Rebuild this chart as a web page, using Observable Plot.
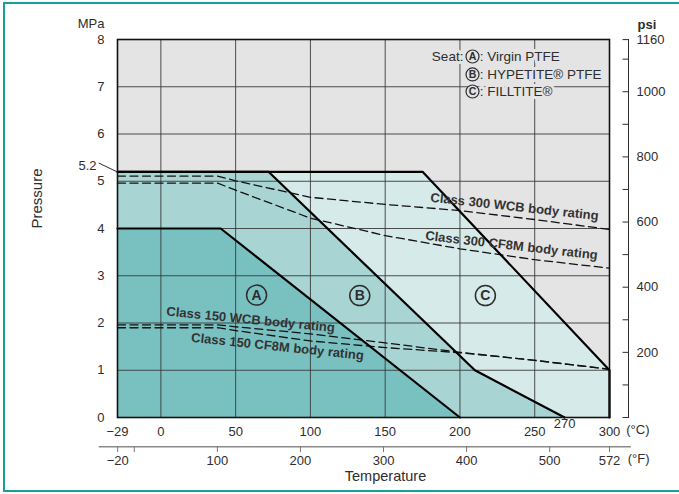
<!DOCTYPE html>
<html><head><meta charset="utf-8">
<script src="https://cdn.jsdelivr.net/npm/d3@7"></script>
<script src="https://cdn.jsdelivr.net/npm/@observablehq/plot@0.6"></script>
<style>
body{margin:0;background:#fff;overflow:hidden;font-family:"Liberation Sans",Arial,sans-serif;}
#wrap{position:relative;width:679px;height:494px;overflow:hidden}
#border{position:absolute;left:3px;top:2px;width:720px;height:490px;border:2px solid #17a199;box-sizing:border-box;pointer-events:none}
</style></head><body><div id="wrap"><div id="border"></div></div>
<script>
// ---- data ----
const seatA_T = [-29, 40, 200];
const seatA_P = [4.0, 4.0, 0];
const seatB_T = [-29, 72, 210, 270];
const seatB_P = [5.2, 5.2, 1.0, 0];
const seatC_T = [-29, 175, 300, 300];
const seatC_P = [5.2, 5.2, 1.0, 0];

const ratingT   = [-29, 38, 50, 100, 150, 200, 250, 300];
const wcb300    = [5.11, 5.11, 5.01, 4.66, 4.51, 4.38, 4.19, 3.98];
const cf8m300   = [4.96, 4.96, 4.81, 4.22, 3.85, 3.57, 3.34, 3.16];
const wcb150    = [1.96, 1.96, 1.92, 1.77, 1.58, 1.38, 1.21, 1.02];
const cf8m150   = [1.90, 1.90, 1.84, 1.62, 1.48, 1.37, 1.21, 1.02];

const cTicks = [-29, 0, 50, 100, 150, 200, 250, 300];
const cGrid = [0, 50, 100, 150, 200, 250];
const mpaTicks = [0, 1, 2, 3, 4, 5, 6, 7, 8];
const mpaGrid = [1, 2, 3, 4, 5, 6, 7];
const fTicks = [-20, 0, 100, 200, 300, 400, 500, 572];
const fLabels = [-20, 100, 200, 300, 400, 500, 572];
const psiTicks = [0, 100, 200, 300, 400, 500, 600, 700, 800, 900, 1000, 1100, 1160];
const psiLabels = [200, 400, 600, 800, 1000, 1160];

const seatLetters = ["A", "B", "C"];
const seatNames = [": Virgin PTFE", ": HYPETITE® PTFE", ": FILLTITE®"];
const ratingNames = ["Class 300 WCB body rating", "Class 300 CF8M body rating",
                     "Class 150 WCB body rating", "Class 150 CF8M body rating"];

// ---- derived tables ----
const zip = (T, P) => T.map((t, i) => ({t, p: P[i]}));
const A = zip(seatA_T, seatA_P), B = zip(seatB_T, seatB_P), C = zip(seatC_T, seatC_P);
const toC = f => (f - 32) * 5 / 9;
const PSI = 145.038;

// annotation placement (positions in chart units)
const ratingLabelPos = [
  {x: 236.5, y: 4.46, r: 6.3}, {x: 234.5, y: 3.64, r: 6.5},
  {x: 60, y: 2.07, r: 5.6}, {x: 78, y: 1.50, r: 6}
].map((d, i) => ({...d, text: ratingNames[i]}));
const seatMarkPos = [{x: 64, y: 2.59}, {x: 133, y: 2.58}, {x: 217, y: 2.58}]
  .map((d, i) => ({...d, text: seatLetters[i]}));
const legendRows = [7.64, 7.26, 6.9].map((y, i) => ({y, letter: seatLetters[i], name: seatNames[i]}));

const colA = "#79c0c1", colB = "#a9d4d4", colC = "#d6eaea", colBg = "#e4e4e4", ink = "#2e2e2e";

const chart = Plot.plot({
  width: 679, height: 494,
  marginLeft: 117, marginRight: 70, marginTop: 39, marginBottom: 77,
  x: {domain: [-29, 300], axis: null},
  y: {domain: [0, 8], axis: null},
  style: {fontFamily: '"Liberation Sans", Arial, sans-serif', fontSize: "13px", color: ink, background: "transparent"},
  marks: [
    Plot.frame({fill: colBg}),
    Plot.areaY(C, {x: "t", y: "p", fill: colC}),
    Plot.areaY(B, {x: "t", y: "p", fill: colB}),
    Plot.areaY(A, {x: "t", y: "p", fill: colA}),
    Plot.ruleY(mpaGrid, {stroke: "#3a3a3a", strokeWidth: 0.9}),
    Plot.ruleX(cGrid, {stroke: "#3a3a3a", strokeWidth: 0.9}),
    // legend
    Plot.text(["Seat:"], {x: 202.3, y: legendRows[0].y, text: d => d, textAnchor: "end", fontSize: 13.5, fill: ink, stroke: colBg, strokeWidth: 6, paintOrder: "stroke"}),
    Plot.text(legendRows, {x: 213.2, y: "y", text: "name", textAnchor: "start", fontSize: 13.5, fill: ink, stroke: colBg, strokeWidth: 6, paintOrder: "stroke"}),
    Plot.dot(legendRows, {x: 208.4, y: "y", r: 6.5, fill: colBg, stroke: ink, strokeWidth: 1.2}),
    Plot.text(legendRows, {x: 208.4, y: "y", text: "letter", fontSize: 10.5, fontWeight: "bold", fill: ink}),
    // rating lines
    Plot.line(zip(ratingT, wcb300), {x: "t", y: "p", stroke: "#111", strokeWidth: 1.3, strokeDasharray: "8,4.5"}),
    Plot.line(zip(ratingT, cf8m300), {x: "t", y: "p", stroke: "#111", strokeWidth: 1.3, strokeDasharray: "8,4.5"}),
    Plot.line(zip(ratingT, wcb150), {x: "t", y: "p", stroke: "#111", strokeWidth: 1.3, strokeDasharray: "8,4.5"}),
    Plot.line(zip(ratingT, cf8m150), {x: "t", y: "p", stroke: "#111", strokeWidth: 1.3, strokeDasharray: "8,4.5"}),
    // seat boundaries
    Plot.line(C, {x: "t", y: "p", stroke: "#000", strokeWidth: 2.2}),
    Plot.line(B, {x: "t", y: "p", stroke: "#000", strokeWidth: 2.2}),
    Plot.line(A, {x: "t", y: "p", stroke: "#000", strokeWidth: 2.2}),
    Plot.frame({stroke: "#111", strokeWidth: 1.6}),
    // labels
    Plot.text(ratingLabelPos, {x: "x", y: "y", text: "text", rotate: "r", fontSize: 13, fontWeight: "bold", fill: "#333"}),
    Plot.dot(seatMarkPos, {x: "x", y: "y", r: 10, stroke: ink, strokeWidth: 1.5}),
    Plot.text(seatMarkPos, {x: "x", y: "y", text: "text", fontSize: 14, fontWeight: "bold", fill: ink}),
    // left axis
    Plot.axisY(mpaTicks, {anchor: "left", tickSize: 0, tickPadding: 13, fontSize: 13, label: null}),
    Plot.text([5.2], {x: -29, y: d => d, text: d => String(d), dx: -21, dy: -6, textAnchor: "end", fontSize: 13, fill: ink}),
    Plot.link([5.2], {x1: -41.5, y1: d => d + 0.185, x2: -29.3, y2: d => d, stroke: ink, strokeWidth: 1}),
    Plot.text(["MPa"], {frameAnchor: "top-left", text: d => d, dx: -13, dy: -21, textAnchor: "end", fontSize: 13, fill: ink}),
    Plot.text(["Pressure"], {frameAnchor: "left", text: d => d, dx: -80, rotate: -90, fontSize: 15, fill: ink}),
    // right psi axis
    Plot.ruleX([300], {dx: 19, stroke: ink, strokeWidth: 1}),
    Plot.axisY(psiTicks.map(p => p / PSI), {anchor: "right", tickSize: 6.5, dx: 12.5, tickPadding: 8, fontSize: 13, label: null,
      tickFormat: d => { const p = Math.round(d * PSI); return psiLabels.includes(p) ? String(p) : ""; }}),
    Plot.text(["psi"], {frameAnchor: "top-right", text: d => d, dx: 28, dy: -20, textAnchor: "start", fontSize: 13, fontWeight: "bold", fill: ink}),
    // bottom °C axis
    Plot.axisX(cTicks, {anchor: "bottom", tickSize: 0, tickPadding: 9.5, fontSize: 13, label: null}),
    Plot.text([270], {x: d => d, frameAnchor: "bottom", text: d => String(d), dy: 10, fontSize: 13, fill: ink}),
    Plot.text(["(°C)"], {frameAnchor: "bottom-right", text: d => d, dx: 40, dy: 16, fontSize: 13, fill: ink}),
    // bottom °F axis
    Plot.ruleY([0], {x1: -41.2, x2: 314.6, dy: 29.3, stroke: "#8a8a8a", strokeWidth: 1.5}),
    Plot.axisX(fTicks.map(toC), {anchor: "bottom", dy: 29.3, tickSize: 5.7, tickPadding: 3.5, stroke: "#777", fill: ink, fontSize: 13, label: null,
      tickFormat: (d) => { const f = Math.round(d * 9 / 5 + 32); return fLabels.includes(f) ? String(f).replace("-", "−") : ""; }}),
    Plot.text(["(°F)"], {frameAnchor: "bottom-right", text: d => d, dx: 40, dy: 45, fontSize: 13, fill: ink}),
    Plot.text(["Temperature"], {frameAnchor: "bottom", text: d => d, dx: 22, dy: 63, fontSize: 14.5, fill: ink})
  ]
});
document.getElementById("wrap").prepend(chart);
</script>
</body></html>
